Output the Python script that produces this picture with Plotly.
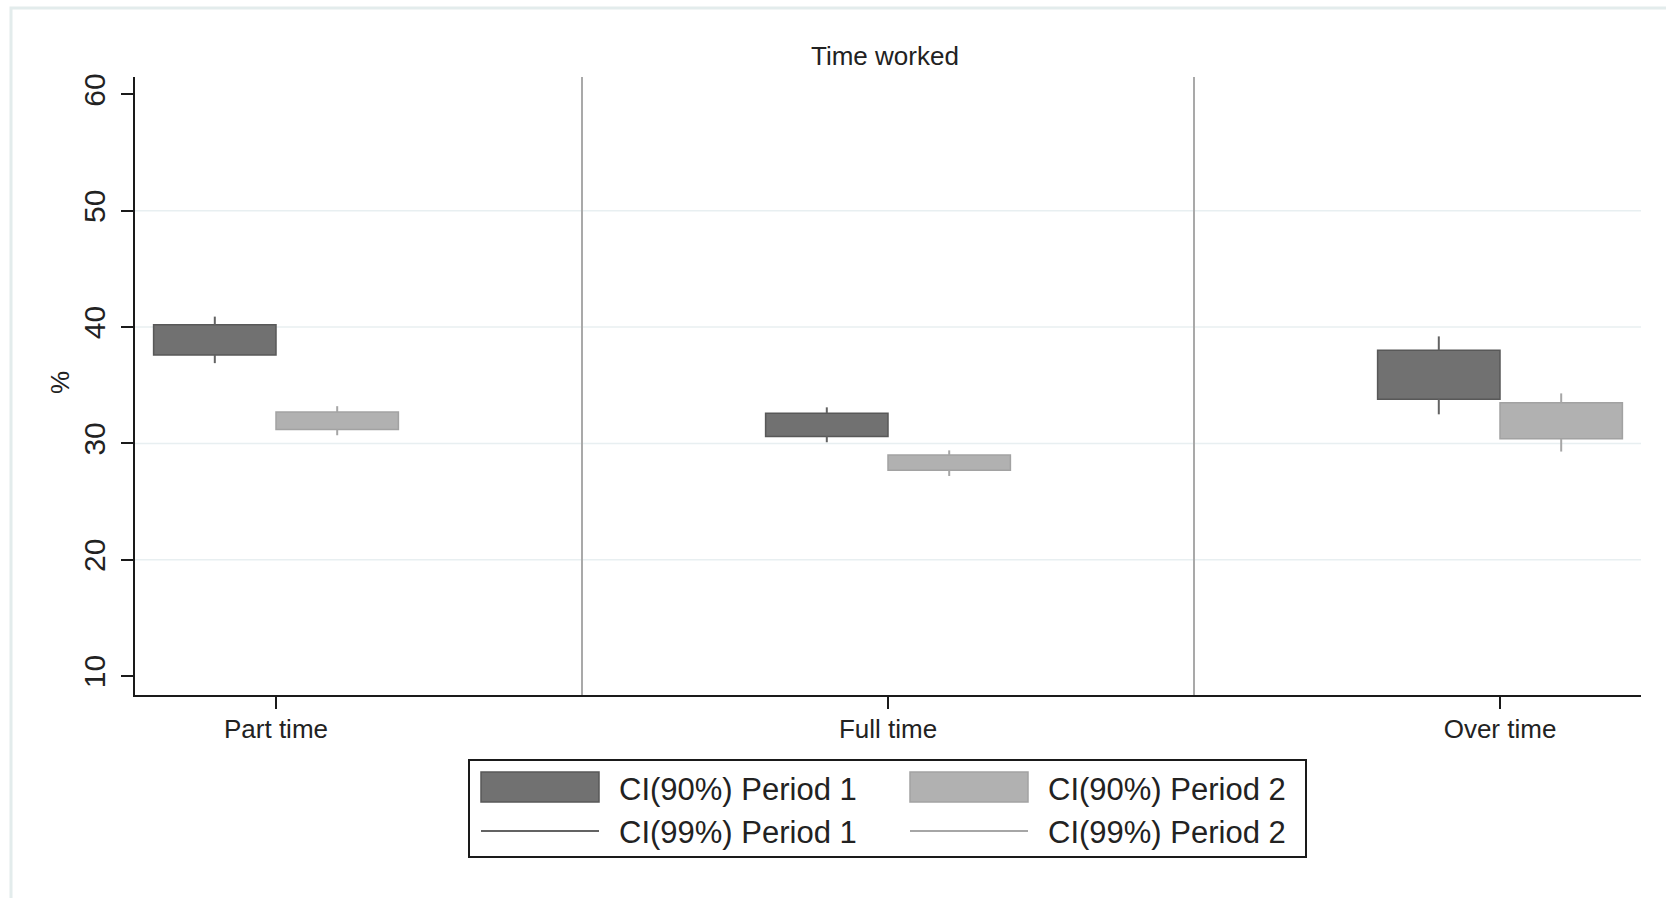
import plotly.graph_objects as go

# ---- data -------------------------------------------------------------
categories = ["Part time", "Full time", "Over time"]

# Period 1 confidence intervals (%)
p1_lo90 = [37.6, 30.6, 33.8]
p1_hi90 = [40.2, 32.6, 38.0]
p1_lo99 = [36.9, 30.1, 32.5]
p1_hi99 = [40.9, 33.1, 39.2]

# Period 2 confidence intervals (%)
p2_lo90 = [31.2, 27.7, 30.4]
p2_hi90 = [32.7, 29.0, 33.5]
p2_lo99 = [30.7, 27.2, 29.3]
p2_hi99 = [33.2, 29.4, 34.3]

y_ticks = [10, 20, 30, 40, 50, 60]
grid_vals = [20, 30, 40, 50]

# ---- layout geometry (pixels) ----------------------------------------
W, H = 1666, 898
L, R, T, B = 135, 1641, 77, 695
FONT = "Liberation Sans, Arial, sans-serif"
TXT = "#222222"

def px(xp):
    return (xp - L) / (R - L)

def py(yp):
    return (B - yp) / (B - T)

BAR_W = 0.2
series = [
    dict(name="Period 1", off=-BAR_W / 2, lo90=p1_lo90, hi90=p1_hi90,
         lo99=p1_lo99, hi99=p1_hi99, fill="#717171", edge="#585858", whisk="#636363"),
    dict(name="Period 2", off=BAR_W / 2, lo90=p2_lo90, hi90=p2_hi90,
         lo99=p2_lo99, hi99=p2_hi99, fill="#b1b1b1", edge="#a2a2a2", whisk="#a6a6a6"),
]

fig = go.Figure()
idx = list(range(len(categories)))

for s in series:
    xs = [i + s["off"] for i in idx]
    # 99% whiskers: segments outside the 90% box
    wx, wy = [], []
    for x, lo9, hi9, lo99, hi99 in zip(xs, s["lo90"], s["hi90"], s["lo99"], s["hi99"]):
        wx += [x, x, None, x, x, None]
        wy += [hi9, hi99, None, lo9, lo99, None]
    fig.add_trace(go.Scatter(
        x=wx, y=wy, mode="lines", line=dict(color=s["whisk"], width=2),
        name="CI(99%) " + s["name"], showlegend=False, hoverinfo="skip"))
    # 90% boxes
    fig.add_trace(go.Bar(
        x=xs, y=[h - l for h, l in zip(s["hi90"], s["lo90"])], base=s["lo90"],
        width=BAR_W, name="CI(90%) " + s["name"], showlegend=False,
        marker=dict(color=s["fill"], line=dict(color=s["edge"], width=1.5))))

shapes = []
# outer panel border
shapes.append(dict(type="rect", xref="paper", yref="paper",
                   x0=px(11), x1=px(1700), y0=py(930), y1=py(8),
                   line=dict(color="#e3ecec", width=3), fillcolor="rgba(0,0,0,0)", layer="below"))
# horizontal grid lines
for g in grid_vals:
    shapes.append(dict(type="line", xref="paper", yref="y", x0=0, x1=1, y0=g, y1=g,
                       line=dict(color="#e8eff1", width=1.5), layer="below"))
# panel dividers between categories
for d in [0.5, 1.5]:
    shapes.append(dict(type="line", xref="x", yref="paper", x0=d, x1=d, y0=0, y1=1,
                       line=dict(color="#a9a9a9", width=2), layer="below"))

# legend
shapes.append(dict(type="rect", xref="paper", yref="paper",
                   x0=px(469), x1=px(1306), y0=py(857), y1=py(760),
                   line=dict(color="#1a1a1a", width=2), fillcolor="white"))
leg_cols = [(481, 599, 617), (910, 1028, 1046)]
annotations = []
for s, (sx0, sx1, tx) in zip(series, leg_cols):
    shapes.append(dict(type="rect", xref="paper", yref="paper",
                       x0=px(sx0), x1=px(sx1), y0=py(802), y1=py(772),
                       line=dict(color=s["edge"], width=1.5), fillcolor=s["fill"]))
    shapes.append(dict(type="line", xref="paper", yref="paper",
                       x0=px(sx0), x1=px(sx1), y0=py(831), y1=py(831),
                       line=dict(color=s["whisk"], width=2)))
    annotations.append(dict(xref="paper", yref="paper", x=px(tx), y=py(789),
                            text="CI(90%) " + s["name"], showarrow=False,
                            xanchor="left", yanchor="middle",
                            font=dict(family=FONT, size=31, color=TXT)))
    annotations.append(dict(xref="paper", yref="paper", x=px(tx), y=py(832),
                            text="CI(99%) " + s["name"], showarrow=False,
                            xanchor="left", yanchor="middle",
                            font=dict(family=FONT, size=31, color=TXT)))

# title and y-axis label
annotations.append(dict(xref="paper", yref="paper", x=px(885), y=py(56),
                        text="Time worked", showarrow=False,
                        xanchor="center", yanchor="middle",
                        font=dict(family=FONT, size=26, color=TXT)))
annotations.append(dict(xref="paper", yref="paper", x=px(60), y=py(383),
                        text="%", showarrow=False, textangle=-90,
                        xanchor="center", yanchor="middle",
                        font=dict(family=FONT, size=26, color=TXT)))

fig.update_layout(
    width=W, height=H,
    margin=dict(l=L, r=W - R, t=T, b=H - B),
    paper_bgcolor="white", plot_bgcolor="white",
    barmode="overlay", showlegend=False,
    shapes=shapes, annotations=annotations,
    font=dict(family=FONT, color=TXT),
    xaxis=dict(range=[-0.2304, 2.2304], tickvals=idx, ticktext=categories,
               showgrid=False, zeroline=False, showline=True,
               linecolor="#1a1a1a", linewidth=2,
               ticks="outside", ticklen=12, tickwidth=2, tickcolor="#1a1a1a",
               ticklabelstandoff=-2,
               tickfont=dict(family=FONT, size=26, color=TXT)),
    yaxis=dict(range=[8.37, 61.5], tickvals=y_ticks, tickangle=-90,
               showgrid=False, zeroline=False, showline=True,
               linecolor="#1a1a1a", linewidth=2,
               ticks="outside", ticklen=12, tickwidth=2, tickcolor="#1a1a1a",
               ticklabelstandoff=4,
               tickfont=dict(family=FONT, size=30, color=TXT)),
)

fig.write_html("out.html")
